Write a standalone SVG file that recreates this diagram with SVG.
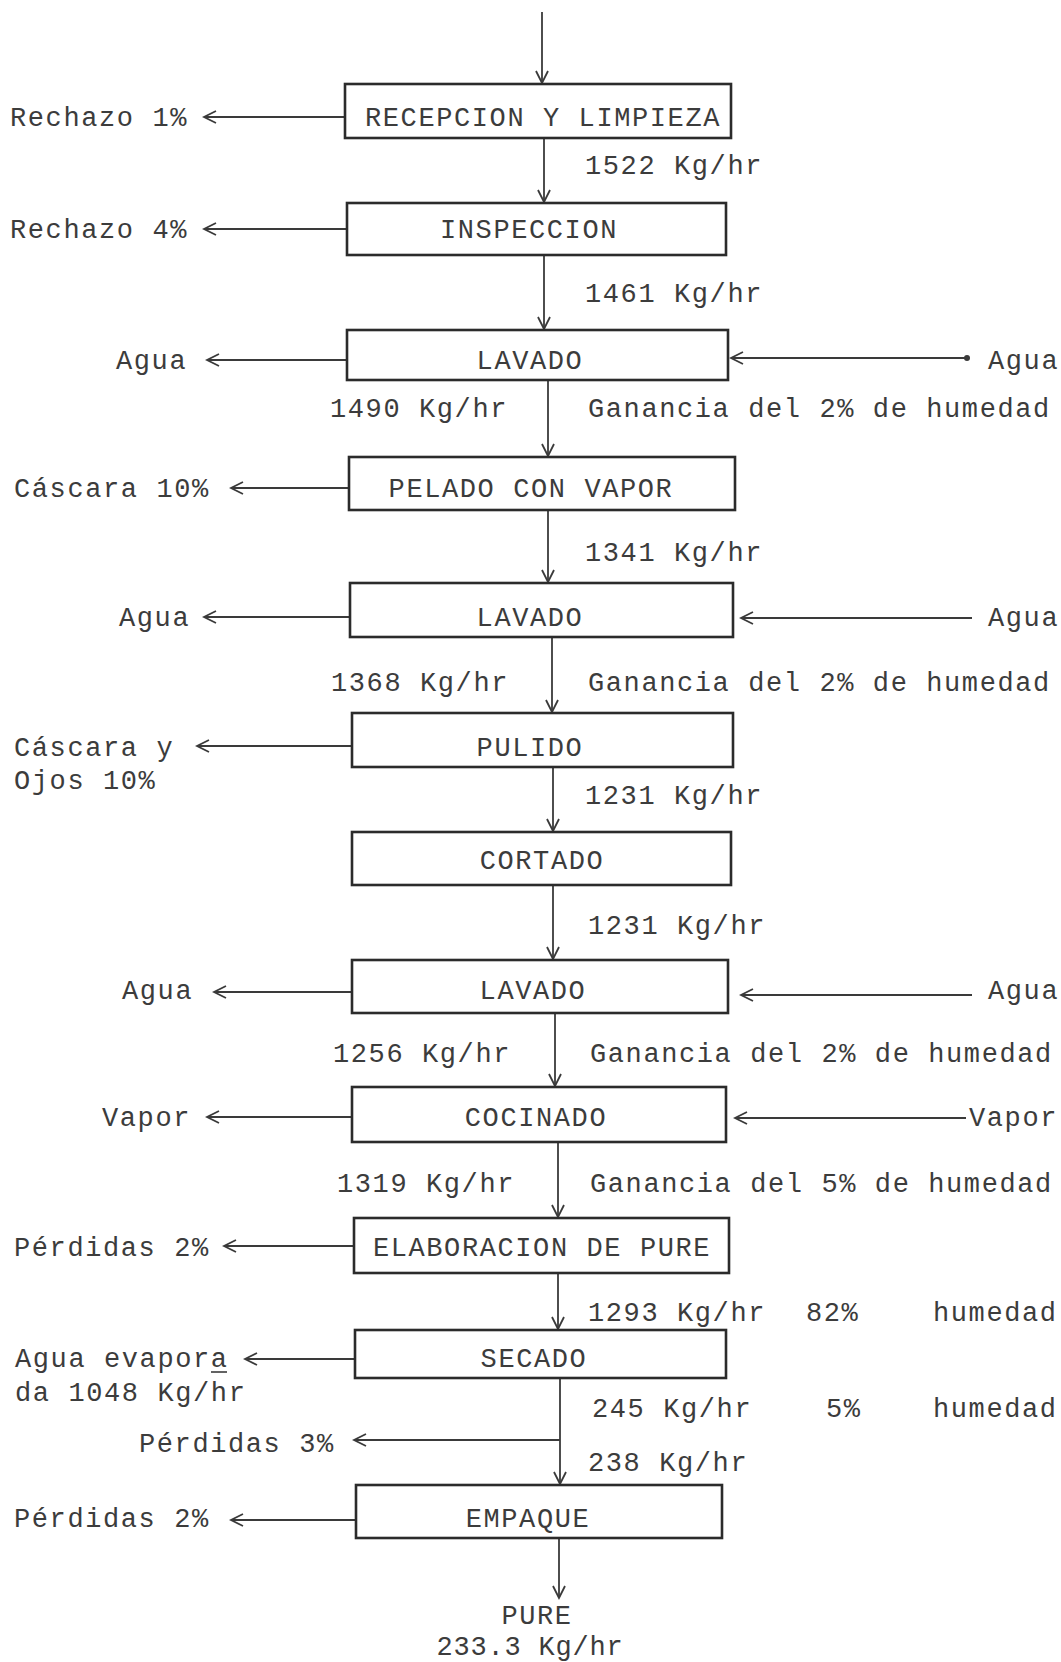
<svg xmlns="http://www.w3.org/2000/svg" width="1061" height="1662" viewBox="0 0 1061 1662">
<defs>
<style>
.bg{fill:#ffffff}
.box{fill:none;stroke:#2b2b2b;stroke-width:2.6}
.t{font-family:"Liberation Mono","DejaVu Sans Mono",monospace;font-size:27px;letter-spacing:1.6px;fill:#3c3c3c}
.m{text-anchor:middle}
.c{fill:none;stroke:#3a3a3a;stroke-width:1.8}
</style>
<marker id="ah" viewBox="-14 -8 16 16" refX="0" refY="0" markerWidth="16" markerHeight="16" markerUnits="userSpaceOnUse" orient="auto">
<path d="M-12,-6 L0,0 L-12,6" fill="none" stroke="#3a3a3a" stroke-width="1.8"/>
</marker>
</defs>
<rect class="bg" x="0" y="0" width="1061" height="1662"/>

<g id="connectors">
<line class="c" x1="542" y1="12" x2="542" y2="83" marker-end="url(#ah)"/>
<line class="c" x1="544" y1="138" x2="544" y2="202" marker-end="url(#ah)"/>
<line class="c" x1="544" y1="255" x2="544" y2="329" marker-end="url(#ah)"/>
<line class="c" x1="548" y1="380" x2="548" y2="456" marker-end="url(#ah)"/>
<line class="c" x1="548" y1="510" x2="548" y2="582" marker-end="url(#ah)"/>
<line class="c" x1="552" y1="637" x2="552" y2="712" marker-end="url(#ah)"/>
<line class="c" x1="553" y1="767" x2="553" y2="831" marker-end="url(#ah)"/>
<line class="c" x1="553" y1="885" x2="553" y2="959" marker-end="url(#ah)"/>
<line class="c" x1="555" y1="1013" x2="555" y2="1086" marker-end="url(#ah)"/>
<line class="c" x1="558" y1="1142" x2="558" y2="1217" marker-end="url(#ah)"/>
<line class="c" x1="558" y1="1273" x2="558" y2="1329" marker-end="url(#ah)"/>
<line class="c" x1="560" y1="1378" x2="560" y2="1484" marker-end="url(#ah)"/>
<line class="c" x1="559" y1="1538" x2="559" y2="1598" marker-end="url(#ah)"/>

<line class="c" x1="345" y1="117" x2="204" y2="117" marker-end="url(#ah)"/>
<line class="c" x1="347" y1="229" x2="204" y2="229" marker-end="url(#ah)"/>
<line class="c" x1="347" y1="360" x2="207" y2="360" marker-end="url(#ah)"/>
<line class="c" x1="349" y1="488" x2="231" y2="488" marker-end="url(#ah)"/>
<line class="c" x1="350" y1="617" x2="204" y2="617" marker-end="url(#ah)"/>
<line class="c" x1="352" y1="746" x2="197" y2="746" marker-end="url(#ah)"/>
<line class="c" x1="352" y1="992" x2="214" y2="992" marker-end="url(#ah)"/>
<line class="c" x1="352" y1="1117" x2="207" y2="1117" marker-end="url(#ah)"/>
<line class="c" x1="354" y1="1246" x2="224" y2="1246" marker-end="url(#ah)"/>
<line class="c" x1="355" y1="1359" x2="245" y2="1359" marker-end="url(#ah)"/>
<line class="c" x1="560" y1="1440" x2="354" y2="1440" marker-end="url(#ah)"/>
<line class="c" x1="356" y1="1520" x2="231" y2="1520" marker-end="url(#ah)"/>

<line class="c" x1="967" y1="358" x2="731" y2="358" marker-end="url(#ah)"/>
<circle cx="967" cy="358" r="3" fill="#3a3a3a"/>
<line class="c" x1="972" y1="618" x2="741" y2="618" marker-end="url(#ah)"/>
<line class="c" x1="972" y1="995" x2="741" y2="995" marker-end="url(#ah)"/>
<line class="c" x1="966" y1="1118" x2="735" y2="1118" marker-end="url(#ah)"/>
</g>

<g id="n1"><rect class="box" x="345" y="84" width="386" height="54"/><text class="t m" x="543" y="126">RECEPCION Y LIMPIEZA</text></g>
<g id="n2"><rect class="box" x="347" y="203" width="379" height="52"/><text class="t m" x="529" y="238">INSPECCION</text></g>
<g id="n3"><rect class="box" x="347" y="330" width="381" height="50"/><text class="t m" x="530" y="369">LAVADO</text></g>
<g id="n4"><rect class="box" x="349" y="457" width="386" height="53"/><text class="t m" x="531" y="497">PELADO CON VAPOR</text></g>
<g id="n5"><rect class="box" x="350" y="583" width="383" height="54"/><text class="t m" x="530" y="626">LAVADO</text></g>
<g id="n6"><rect class="box" x="352" y="713" width="381" height="54"/><text class="t m" x="530" y="756">PULIDO</text></g>
<g id="n7"><rect class="box" x="352" y="832" width="379" height="53"/><text class="t m" x="542" y="869">CORTADO</text></g>
<g id="n8"><rect class="box" x="352" y="960" width="376" height="53"/><text class="t m" x="533" y="999">LAVADO</text></g>
<g id="n9"><rect class="box" x="352" y="1087" width="374" height="55"/><text class="t m" x="536" y="1126">COCINADO</text></g>
<g id="n10"><rect class="box" x="354" y="1218" width="375" height="55"/><text class="t m" x="542" y="1256">ELABORACION DE PURE</text></g>
<g id="n11"><rect class="box" x="355" y="1330" width="371" height="48"/><text class="t m" x="534" y="1367">SECADO</text></g>
<g id="n12"><rect class="box" x="356" y="1485" width="366" height="53"/><text class="t m" x="528" y="1527">EMPAQUE</text></g>

<g id="labels">
<text class="t" x="10" y="126">Rechazo 1%</text>
<text class="t" x="585" y="174">1522 Kg/hr</text>
<text class="t" x="10" y="238">Rechazo 4%</text>
<text class="t" x="585" y="302">1461 Kg/hr</text>
<text class="t" x="116" y="369">Agua</text>
<text class="t" x="988" y="369">Agua</text>
<text class="t" x="330" y="417">1490 Kg/hr</text>
<text class="t" x="588" y="417">Ganancia del 2% de humedad</text>
<text class="t" x="14" y="497">Cáscara 10%</text>
<text class="t" x="585" y="561">1341 Kg/hr</text>
<text class="t" x="119" y="626">Agua</text>
<text class="t" x="988" y="626">Agua</text>
<text class="t" x="331" y="691">1368 Kg/hr</text>
<text class="t" x="588" y="691">Ganancia del 2% de humedad</text>
<text class="t" x="14" y="756">Cáscara y</text>
<text class="t" x="14" y="789">Ojos 10%</text>
<text class="t" x="585" y="804">1231 Kg/hr</text>
<text class="t" x="588" y="934">1231 Kg/hr</text>
<text class="t" x="122" y="999">Agua</text>
<text class="t" x="988" y="999">Agua</text>
<text class="t" x="333" y="1062">1256 Kg/hr</text>
<text class="t" x="590" y="1062">Ganancia del 2% de humedad</text>
<text class="t" x="102" y="1126">Vapor</text>
<text class="t" x="969" y="1126">Vapor</text>
<text class="t" x="337" y="1192">1319 Kg/hr</text>
<text class="t" x="590" y="1192">Ganancia del 5% de humedad</text>
<text class="t" x="14" y="1256">Pérdidas 2%</text>
<text class="t" x="588" y="1321">1293 Kg/hr</text>
<text class="t" x="806" y="1321">82%</text>
<text class="t" x="933" y="1321">humedad</text>
<text class="t" x="15" y="1367">Agua evapora</text>
<line x1="211" y1="1372" x2="227" y2="1372" stroke="#3c3c3c" stroke-width="1.6"/>
<text class="t" x="15" y="1401">da 1048 Kg/hr</text>
<text class="t" x="592" y="1417">245 Kg/hr</text>
<text class="t" x="826" y="1417">5%</text>
<text class="t" x="933" y="1417">humedad</text>
<text class="t" x="139" y="1452">Pérdidas 3%</text>
<text class="t" x="588" y="1471">238 Kg/hr</text>
<text class="t" x="14" y="1527">Pérdidas 2%</text>
<text class="t m" x="537" y="1624">PURE</text>
<text class="t m" x="530" y="1655" style="letter-spacing:0.8px">233.3 Kg/hr</text>
</g>
</svg>
